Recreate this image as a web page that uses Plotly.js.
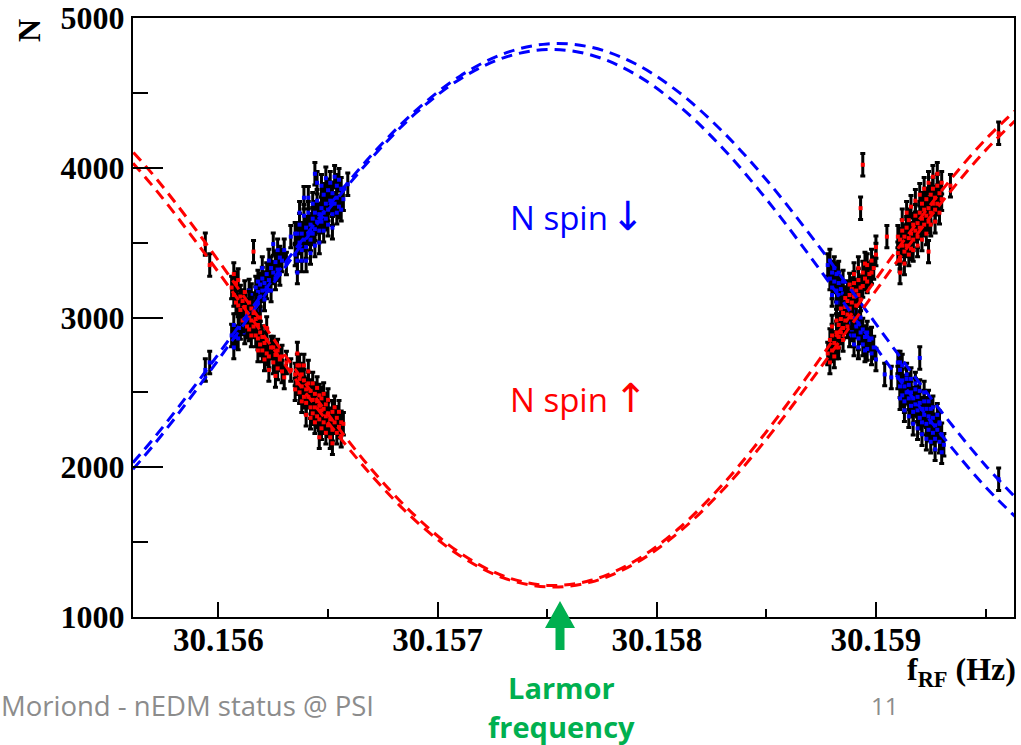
<!DOCTYPE html>
<html>
<head>
<meta charset="utf-8">
<script src="https://cdn.plot.ly/plotly-3.0.1.min.js"></script>
<style>html,body{margin:0;padding:0;background:#fff;}#chart{width:1021px;height:745px;}</style>
</head>
<body>
<div id="chart"></div>
<script>
// ---- tick labels ----
const xTickVals = [30.156, 30.157, 30.158, 30.159];
const xTickLabels = ["30.156", "30.157", "30.158", "30.159"];
const xMinorVals = [30.1565, 30.1575, 30.1585, 30.1595];
const yTickVals = [1000, 2000, 3000, 4000, 5000];
const yTickLabels = ["1000", "2000", "3000", "4000", "5000"];
const yMinorVals = [1500, 2500, 3500, 4500];

// ---- fitted curves ----
const curveX = [30.1555, 30.1557, 30.1559, 30.1561, 30.1563, 30.1565, 30.1567, 30.1569, 30.1571, 30.1573, 30.1575,
                30.1577, 30.1579, 30.1581, 30.1583, 30.1585, 30.1587, 30.1589, 30.1591, 30.1593, 30.1595, 30.1597];
const blueFitA = [1850, 2185, 2560, 2957, 3357, 3740, 4087, 4382, 4610, 4761, 4827, 4805, 4696, 4505, 4242, 3920, 3552, 3158, 2757, 2369, 2012, 1703];
const blueFitB = [1806, 2141, 2519, 2922, 3328, 3717, 4067, 4364, 4590, 4734, 4790, 4753, 4626, 4415, 4132, 3790, 3407, 3003, 2599, 2214, 1869, 1581];
const redFitA  = [4279, 3956, 3580, 3173, 2756, 2354, 1983, 1672, 1430, 1274, 1211, 1245, 1374, 1591, 1884, 2237, 2633, 3048, 3460, 3848, 4189, 4466];
const redFitB  = [4210, 3878, 3501, 3099, 2691, 2299, 1943, 1642, 1411, 1261, 1201, 1233, 1357, 1565, 1846, 2187, 2571, 2976, 3382, 3769, 4116, 4405];

// ---- measured points: N spin down (blue) ----
const blueX = [30.15594, 30.15596,
  30.15606, 30.15607, 30.15608, 30.15609, 30.15610, 30.15610, 30.15611, 30.15612, 30.15612, 30.15613, 30.15613,
  30.15614, 30.15614, 30.15615, 30.15615, 30.15616, 30.15616, 30.15617, 30.15617, 30.15618, 30.15618, 30.15619,
  30.15619, 30.15620, 30.15620, 30.15621, 30.15622, 30.15622, 30.15623, 30.15624, 30.15625, 30.15625, 30.15626,
  30.15627, 30.15628, 30.15629, 30.15633,
  30.15635, 30.15636, 30.15636, 30.15637, 30.15637, 30.15638, 30.15638, 30.15639, 30.15639, 30.15640, 30.15640,
  30.15641, 30.15641, 30.15642, 30.15642, 30.15643, 30.15643, 30.15644, 30.15644, 30.15644, 30.15645, 30.15645,
  30.15646, 30.15646, 30.15647, 30.15647, 30.15648, 30.15648, 30.15649, 30.15649, 30.15650, 30.15650, 30.15651,
  30.15652, 30.15652, 30.15653, 30.15654, 30.15654, 30.15655, 30.15656, 30.15657, 30.15659,
  30.15878, 30.15879, 30.15880, 30.15880, 30.15881, 30.15882, 30.15882, 30.15883, 30.15883, 30.15884, 30.15884,
  30.15885, 30.15885, 30.15886, 30.15886, 30.15887, 30.15887, 30.15888, 30.15888, 30.15889, 30.15889, 30.15890,
  30.15890, 30.15891, 30.15892, 30.15892, 30.15893, 30.15894, 30.15894, 30.15895, 30.15896, 30.15897, 30.15898,
  30.15899, 30.15900,
  30.15904, 30.15907, 30.15911, 30.15920,
  30.15910, 30.15911, 30.15911, 30.15912, 30.15912, 30.15913, 30.15913, 30.15914, 30.15914, 30.15915, 30.15915,
  30.15916, 30.15916, 30.15917, 30.15917, 30.15918, 30.15918, 30.15919, 30.15919, 30.15920, 30.15920, 30.15921,
  30.15921, 30.15922, 30.15922, 30.15923, 30.15923, 30.15924, 30.15924, 30.15925, 30.15925, 30.15926, 30.15926,
  30.15927, 30.15927, 30.15928, 30.15929, 30.15929, 30.15930, 30.15930, 30.15931,
  30.15956];
const blueY = [2650, 2700,
  2880, 2950, 2870, 3010, 2930, 3020, 2960, 3080, 2990, 3050, 2940,
  3110, 3020, 3060, 3150, 3090, 3000, 3130, 3200, 3100, 3170, 3220,
  3140, 3180, 3260, 3230, 3290, 3200, 3250, 3330, 3300, 3490, 3370,
  3320, 3400, 3380, 3540,
  3420, 3560, 3380, 3500, 3620, 3450, 3560, 3680, 3520, 3600, 3470,
  3560, 3700, 3620, 3520, 3660, 3760, 3590, 3700, 3960, 3640, 3780,
  3690, 3580, 3730, 3640, 3820, 3700, 3660, 3760, 3850, 3720, 3780,
  3690, 3830, 3760, 3880, 3800, 3740, 3860, 3790, 3890,
  3350, 3260, 3300, 3200, 3240, 3180, 3290, 3150, 3230, 3190, 3100,
  3160, 3060, 3120, 3020, 3080, 3000, 3050, 2960, 3010, 2920, 2980,
  2880, 2940, 2860, 2960, 2900, 2820, 2920, 2870, 2790, 2850, 2760,
  2800, 2720,
  2620, 2600, 2700, 2730,
  2600, 2540, 2650, 2580, 2480, 2540, 2440, 2590, 2500, 2460, 2550,
  2410, 2500, 2460, 2370, 2520, 2420, 2470, 2380, 2330, 2430, 2390,
  2300, 2440, 2350, 2290, 2390, 2340, 2250, 2300, 2390, 2230, 2330,
  2280, 2190, 2250, 2170, 2290, 2220, 2100, 2150,
  1920];
// more spin-down points (wider scatter inside the clusters)
const blueX2 = [30.15607, 30.15609, 30.15611, 30.15612, 30.15614, 30.15616, 30.15617, 30.15618, 30.15619, 30.15620,
  30.15621, 30.15623, 30.15624, 30.15626, 30.15627, 30.15628, 30.15630, 30.15631,
  30.15635, 30.15636, 30.15637, 30.15638, 30.15639, 30.15640, 30.15641, 30.15642, 30.15643, 30.15644, 30.15645,
  30.15646, 30.15647, 30.15648, 30.15649, 30.15650, 30.15651, 30.15652, 30.15653, 30.15654, 30.15655, 30.15656,
  30.15879, 30.15880, 30.15881, 30.15882, 30.15883, 30.15884, 30.15885, 30.15886, 30.15887, 30.15888, 30.15889,
  30.15890, 30.15891, 30.15892, 30.15893, 30.15895, 30.15896, 30.15898,
  30.15910, 30.15911, 30.15912, 30.15913, 30.15914, 30.15915, 30.15916, 30.15917, 30.15918, 30.15919, 30.15920,
  30.15921, 30.15922, 30.15923, 30.15924, 30.15925, 30.15926, 30.15927, 30.15928, 30.15929];
const blueY2 = [2800, 2860, 3100, 2900, 3180, 2950, 3060, 3240, 3050, 3330,
  3120, 3380, 3180, 3260, 3450, 3290, 3450, 3360,
  3560, 3300, 3700, 3380, 3800, 3380, 3800, 3430, 3560, 3480, 3900,
  3500, 3880, 3580, 3930, 3620, 3900, 3600, 3940, 3700, 3920, 3720,
  3380, 3150, 3330, 3100, 3300, 3030, 3240, 2980, 3170, 2880, 3100,
  2820, 3040, 2800, 3000, 2780, 2900, 2860,
  2700, 2460, 2680, 2380, 2620, 2340, 2590, 2290, 2560, 2260, 2510,
  2220, 2500, 2190, 2440, 2170, 2400, 2120, 2350, 2300];

// ---- measured points: N spin up (red) ----
const redX = [30.15594, 30.15596,
  30.15606, 30.15607, 30.15608, 30.15609, 30.15610, 30.15610, 30.15611, 30.15612, 30.15612, 30.15613, 30.15613,
  30.15614, 30.15614, 30.15615, 30.15615, 30.15616, 30.15616, 30.15616, 30.15617, 30.15617, 30.15618, 30.15618,
  30.15619, 30.15619, 30.15620, 30.15620, 30.15621, 30.15622, 30.15622, 30.15623, 30.15624, 30.15625, 30.15626,
  30.15627, 30.15628, 30.15629, 30.15631, 30.15633,
  30.15635, 30.15636, 30.15636, 30.15637, 30.15637, 30.15638, 30.15638, 30.15639, 30.15639, 30.15640, 30.15640,
  30.15641, 30.15641, 30.15642, 30.15642, 30.15643, 30.15643, 30.15644, 30.15644, 30.15645, 30.15645, 30.15646,
  30.15646, 30.15646, 30.15647, 30.15647, 30.15648, 30.15648, 30.15649, 30.15649, 30.15650, 30.15650, 30.15651,
  30.15652, 30.15652, 30.15652, 30.15653, 30.15654, 30.15654, 30.15655, 30.15656, 30.15657,
  30.15878, 30.15879, 30.15880, 30.15880, 30.15881, 30.15882, 30.15882, 30.15883, 30.15883, 30.15884, 30.15884,
  30.15885, 30.15885, 30.15886, 30.15886, 30.15887, 30.15887, 30.15888, 30.15888, 30.15889, 30.15889, 30.15890,
  30.15890, 30.15891, 30.15892, 30.15892, 30.15893, 30.15894, 30.15894, 30.15895, 30.15896, 30.15897, 30.15898,
  30.15899, 30.15900,
  30.15893, 30.15894, 30.15900, 30.15905,
  30.15910, 30.15911, 30.15911, 30.15911, 30.15912, 30.15912, 30.15913, 30.15913, 30.15914, 30.15914, 30.15915,
  30.15915, 30.15916, 30.15916, 30.15917, 30.15917, 30.15918, 30.15918, 30.15919, 30.15919, 30.15920, 30.15920,
  30.15921, 30.15921, 30.15922, 30.15922, 30.15923, 30.15923, 30.15924, 30.15924, 30.15924, 30.15925, 30.15925,
  30.15926, 30.15926, 30.15927, 30.15927, 30.15928, 30.15928, 30.15929, 30.15930, 30.15930, 30.15934,
  30.15956];
const redY = [3490, 3350,
  3200, 3150, 3230, 3080, 3140, 3050, 3110, 2990, 3070, 3030, 2940,
  3000, 2920, 3060, 2980, 2940, 3030, 3440, 2880, 2990, 2950, 2860,
  2900, 2820, 2870, 2780, 2830, 2760, 2850, 2740, 2800, 2700, 2750,
  2660, 2720, 2640, 2700, 2650,
  2620, 2560, 2680, 2590, 2500, 2620, 2540, 2470, 2580, 2520, 2430,
  2560, 2470, 2400, 2510, 2450, 2360, 2490, 2400, 2440, 2340, 2410,
  2320, 2200, 2380, 2460, 2300, 2390, 2340, 2420, 2280, 2360, 2320,
  2250, 2370, 2160, 2300, 2230, 2330, 2270, 2210, 2290,
  2760, 2850, 2780, 2880, 2830, 2900, 2800, 2870, 2950, 2900, 2990,
  2930, 3030, 2980, 3070, 3020, 3110, 3060, 3150, 3100, 3190, 3140,
  3230, 3180, 3250, 3150, 3200, 3300, 3210, 3260, 3350, 3290, 3380,
  3330, 3420,
  3730, 4020, 3470, 3540,
  3430, 3520, 3380, 3400, 3480, 3580, 3440, 3540, 3600, 3480, 3530,
  3650, 3560, 3460, 3620, 3520, 3680, 3580, 3630, 3540, 3700, 3600,
  3660, 3760, 3620, 3720, 3680, 3790, 3730, 3640, 3440, 3820, 3700,
  3760, 3860, 3720, 3800, 3880, 3760, 3830, 3900, 3790, 3880,
  4230];
// more spin-up points (wider scatter inside the clusters)
const redX2 = [30.15607, 30.15608, 30.15609, 30.15611, 30.15612, 30.15614, 30.15615, 30.15617, 30.15618, 30.15619,
  30.15621, 30.15622, 30.15623, 30.15625, 30.15626, 30.15627, 30.15629, 30.15630,
  30.15635, 30.15636, 30.15637, 30.15638, 30.15639, 30.15640, 30.15641, 30.15642, 30.15643, 30.15644, 30.15645,
  30.15646, 30.15647, 30.15648, 30.15649, 30.15650, 30.15651, 30.15653, 30.15655, 30.15656,
  30.15879, 30.15880, 30.15881, 30.15882, 30.15883, 30.15884, 30.15885, 30.15886, 30.15887, 30.15888, 30.15889,
  30.15890, 30.15891, 30.15892, 30.15893, 30.15895, 30.15896, 30.15898,
  30.15910, 30.15911, 30.15912, 30.15913, 30.15914, 30.15915, 30.15916, 30.15917, 30.15918, 30.15919, 30.15920,
  30.15921, 30.15922, 30.15923, 30.15924, 30.15925, 30.15926, 30.15927, 30.15928, 30.15929];
const redY2 = [3290, 3100, 3250, 2980, 3170, 3100, 2880, 3080, 2780, 3000,
  2720, 2930, 2650, 2800, 2610, 2780, 2740, 2600,
  2520, 2760, 2680, 2440, 2680, 2350, 2640, 2330, 2560, 2300, 2530,
  2480, 2260, 2490, 2230, 2450, 2200, 2400, 2370, 2300,
  2700, 2940, 2740, 2980, 2800, 3060, 2850, 3130, 2940, 3220, 3000,
  3290, 3080, 3330, 3120, 3360, 3240, 3300,
  3540, 3300, 3650, 3360, 3700, 3420, 3740, 3450, 3780, 3480, 3820,
  3520, 3860, 3560, 3900, 3620, 3940, 3640, 3960, 3700];
const ERR = 75;

// ---- helpers for placing page text in pixels ----
const L = 133, R = 1014, T = 18, B = 617;
const px = v => (v - L) / (R - L);
const py = v => (B - v) / (B - T);

const serif = {family: "Liberation Serif, Times New Roman, serif", size: 32, color: "#000", weight: "bold"};
const serifX = {family: "Liberation Serif, Times New Roman, serif", size: 33, color: "#000", weight: "bold"};
const dashPat = "11px,7px";

function dataTrace(x, y, col) {
  return {
    type: "scatter", mode: "markers", x: x, y: y,
    marker: {color: col, size: 4, symbol: "square", line: {width: 0}},
    error_y: {type: "constant", value: ERR, color: "#000", thickness: 3, width: 2.5},
    hoverinfo: "skip", showlegend: false, cliponaxis: true
  };
}
function fitTrace(y, col) {
  return {
    type: "scatter", mode: "lines", x: curveX, y: y,
    line: {color: col, width: 3, dash: dashPat, shape: "spline", smoothing: 1},
    hoverinfo: "skip", showlegend: false
  };
}

const traces = [
  dataTrace(blueX.concat(blueX2), blueY.concat(blueY2), "#0000ff"),
  dataTrace(redX.concat(redX2), redY.concat(redY2), "#ff0000"),
  fitTrace(blueFitA, "#0000ff"),
  fitTrace(blueFitB, "#0000ff"),
  fitTrace(redFitA, "#ff0000"),
  fitTrace(redFitB, "#ff0000")
];

const green = "#00b050";
const sans = "Open Sans, Noto Sans, sans-serif";
const arrowFont = "DejaVu Sans, sans-serif";
const layout = {
  width: 1021, height: 745,
  margin: {l: L, r: 1021 - R, t: T, b: 745 - B, pad: 0},
  paper_bgcolor: "#fff", plot_bgcolor: "#fff",
  showlegend: false,
  xaxis: {
    range: [30.15561, 30.15963],
    tickmode: "array", tickvals: xTickVals, ticktext: xTickLabels,
    ticks: "inside", ticklen: 15, tickwidth: 2, tickcolor: "#000",
    minor: {tickmode: "array", tickvals: xMinorVals, ticks: "inside", ticklen: 8, tickwidth: 2, tickcolor: "#000", showgrid: false},
    showline: true, linecolor: "#000", linewidth: 2, mirror: true,
    showgrid: false, zeroline: false,
    tickfont: serifX, ticklabelstandoff: -8
  },
  yaxis: {
    range: [1000, 5000],
    tickmode: "array", tickvals: yTickVals, ticktext: yTickLabels,
    ticks: "inside", ticklen: 30, tickwidth: 2, tickcolor: "#000",
    minor: {tickmode: "array", tickvals: yMinorVals, ticks: "inside", ticklen: 15, tickwidth: 2, tickcolor: "#000", showgrid: false},
    showline: true, linecolor: "#000", linewidth: 2, mirror: true,
    showgrid: false, zeroline: false,
    tickfont: serif, ticklabelstandoff: 0
  },
  annotations: [
    {text: "N", xref: "paper", yref: "paper", x: px(29), y: py(31), textangle: -90,
     showarrow: false, xanchor: "center", yanchor: "middle", font: serif},
    {text: "f<sub>RF</sub> (Hz)", xref: "paper", yref: "paper", x: px(1018), y: py(671),
     showarrow: false, xanchor: "right", yanchor: "middle", font: serif},
    {text: "N spin", xref: "x", yref: "y", x: 30.15732, y: 3667,
     showarrow: false, xanchor: "left", yanchor: "middle",
     font: {family: sans, size: 33, color: "#0000ff"}},
    {text: "↓", xref: "paper", yref: "paper", x: px(628), y: py(216),
     showarrow: false, xanchor: "center", yanchor: "middle",
     font: {family: arrowFont, size: 40, color: "#0000ff"}},
    {text: "N spin", xref: "x", yref: "y", x: 30.15732, y: 2453,
     showarrow: false, xanchor: "left", yanchor: "middle",
     font: {family: sans, size: 33, color: "#ff0000"}},
    {text: "↑", xref: "paper", yref: "paper", x: px(631), y: py(398),
     showarrow: false, xanchor: "center", yanchor: "middle",
     font: {family: arrowFont, size: 40, color: "#ff0000"}},
    {text: "Larmor", xref: "paper", yref: "paper", x: px(561), y: py(687),
     showarrow: false, xanchor: "center", yanchor: "middle",
     font: {family: sans, size: 29, color: green, weight: "bold"}},
    {text: "frequency", xref: "paper", yref: "paper", x: px(561), y: py(726),
     showarrow: false, xanchor: "center", yanchor: "middle",
     font: {family: sans, size: 29, color: green, weight: "bold"}},
    {text: "Moriond - nEDM status @ PSI", xref: "paper", yref: "paper", x: px(376), y: py(705),
     showarrow: false, xanchor: "right", yanchor: "middle",
     font: {family: sans, size: 27.5, color: "#8c8c8c"}},
    {text: "11", xref: "paper", yref: "paper", x: px(884), y: py(705),
     showarrow: false, xanchor: "center", yanchor: "middle",
     font: {family: sans, size: 24, color: "#8c8c8c"}}
  ],
  shapes: [
    {type: "path", xref: "paper", yref: "paper", layer: "above",
     fillcolor: green, line: {width: 0},
     path: "M " + px(560) + "," + py(601) +
           " L " + px(575) + "," + py(628) +
           " L " + px(564.5) + "," + py(628) +
           " L " + px(564.5) + "," + py(650) +
           " L " + px(555.5) + "," + py(650) +
           " L " + px(555.5) + "," + py(628) +
           " L " + px(545) + "," + py(628) + " Z"}
  ]
};

Plotly.newPlot("chart", traces, layout, {displayModeBar: false, staticPlot: true});
</script>
</body>
</html>
